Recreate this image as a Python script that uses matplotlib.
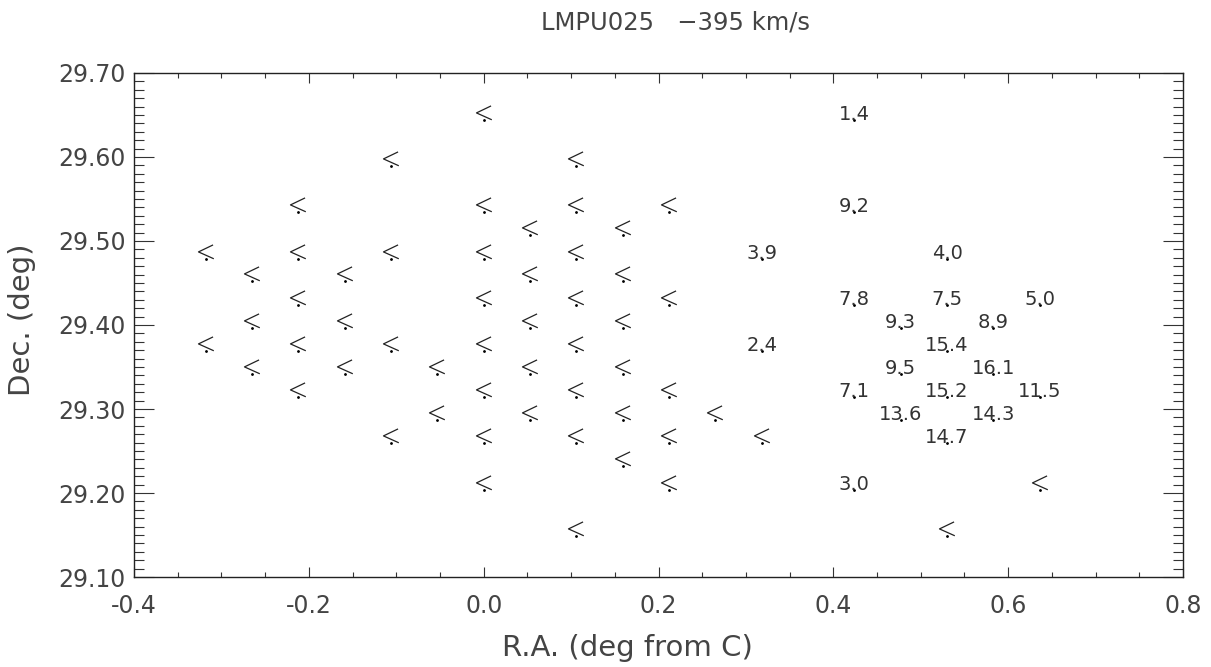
import matplotlib
matplotlib.use("Agg")
import matplotlib.pyplot as plt
from matplotlib.path import Path
from matplotlib.ticker import MultipleLocator, FormatStrFormatter

# upper limits (no detection), plotted as "<"
lim_ra = [0.0,
          -0.106, 0.106,
          -0.212, 0.0, 0.106, 0.212,
          0.053, 0.159,
          -0.318, -0.212, -0.106, 0.0, 0.106,
          -0.265, -0.159, 0.053, 0.159,
          -0.212, 0.0, 0.106, 0.212,
          -0.265, -0.159, 0.053, 0.159,
          -0.318, -0.212, -0.106, 0.0, 0.106,
          -0.265, -0.159, -0.053, 0.053, 0.159,
          -0.212, 0.0, 0.106, 0.212,
          -0.053, 0.053, 0.159, 0.265,
          -0.106, 0.0, 0.106, 0.212, 0.318,
          0.159,
          0.0, 0.212, 0.636,
          0.106, 0.530]
lim_dec = [29.644,
           29.589, 29.589,
           29.534, 29.534, 29.534, 29.534,
           29.507, 29.507,
           29.479, 29.479, 29.479, 29.479, 29.479,
           29.452, 29.452, 29.452, 29.452,
           29.424, 29.424, 29.424, 29.424,
           29.397, 29.397, 29.397, 29.397,
           29.369, 29.369, 29.369, 29.369, 29.369,
           29.342, 29.342, 29.342, 29.342, 29.342,
           29.314, 29.314, 29.314, 29.314,
           29.287, 29.287, 29.287, 29.287,
           29.259, 29.259, 29.259, 29.259, 29.259,
           29.232,
           29.204, 29.204, 29.204,
           29.149, 29.149]

# detections with values
det_ra = [0.424, 0.424, 0.318, 0.530, 0.424, 0.530, 0.636, 0.477, 0.583, 0.530,
          0.318, 0.477, 0.583, 0.424, 0.530, 0.636, 0.477, 0.583, 0.530, 0.424]
det_dec = [29.644, 29.534, 29.479, 29.479, 29.424, 29.424, 29.424, 29.397, 29.397, 29.369,
           29.369, 29.342, 29.342, 29.314, 29.314, 29.314, 29.287, 29.287, 29.259, 29.204]
det_val = ["1.4", "9.2", "3.9", "4.0", "7.8", "7.5", "5.0", "9.3", "8.9", "15.4",
           "2.4", "9.5", "16.1", "7.1", "15.2", "11.5", "13.6", "14.3", "14.7", "3.0"]

# "<" glyph sitting above the point (point = baseline centre, like xyouts)
lt_marker = Path([(0.45, 1.0), (-0.55, 0.52), (0.5, 0.05)],
                 [Path.MOVETO, Path.LINETO, Path.LINETO])

plt.rcParams['font.family'] = ['DejaVu Sans']
fig = plt.figure(figsize=(12.11, 6.67), dpi=100)
ax = fig.add_axes([0.1107, 0.1349, 0.9769 - 0.1107, 0.8906 - 0.1349])

ax.plot(lim_ra, lim_dec, linestyle='none', marker=lt_marker, markersize=21,
        markerfacecolor='none', markeredgecolor='#222222', markeredgewidth=0.9)
ax.plot(lim_ra, lim_dec, linestyle='none', marker='.', markersize=2, color='k')
ax.plot(det_ra, det_dec, linestyle='none', marker='.', markersize=2, color='k')
for x, y, v in zip(det_ra, det_dec, det_val):
    ax.text(x, y, v, ha='center', va='baseline', fontsize=14, color='#333333')

ax.set_xlim(-0.4, 0.8)
ax.set_ylim(29.10, 29.70)
ax.xaxis.set_major_locator(MultipleLocator(0.2))
ax.xaxis.set_minor_locator(MultipleLocator(0.05))
ax.yaxis.set_major_locator(MultipleLocator(0.1))
ax.yaxis.set_minor_locator(MultipleLocator(0.01))
ax.xaxis.set_major_formatter(FormatStrFormatter('%.1f'))
ax.yaxis.set_major_formatter(FormatStrFormatter('%.2f'))
ax.tick_params(axis='both', which='both', direction='in', top=True, right=True,
               width=0.8, color='#333333', labelsize=17, labelcolor='#444444')
ax.tick_params(axis='x', which='major', length=7.2, pad=12)
ax.tick_params(axis='x', which='minor', length=3.6)
ax.tick_params(axis='y', which='major', length=14.4, pad=6)
ax.tick_params(axis='y', which='minor', length=7.2)
for s in ax.spines.values():
    s.set_linewidth(1.0)
    s.set_color('#222222')

ax.set_xlabel("R.A. (deg from C)", fontsize=21, color='#444444', labelpad=12, x=0.47)
ax.set_ylabel("Dec. (deg)", fontsize=21, color='#444444', labelpad=16, y=0.51)
fig.text(0.558, 0.967, "LMPU025   \u2212395 km/s", ha='center', va='center',
         fontsize=17.5, color='#444444')

fig.savefig("out.png", dpi=100)
